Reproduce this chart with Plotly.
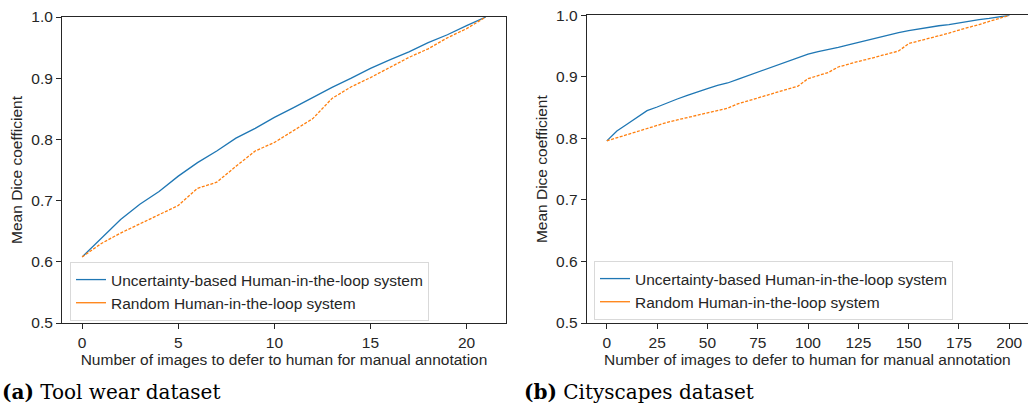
import plotly.graph_objects as go

# ---- data: (a) Tool wear dataset ----
tool_x = list(range(22))
tool_uncertainty = [0.608, 0.638, 0.669, 0.694, 0.715, 0.740, 0.762, 0.781, 0.802, 0.818,
                    0.836, 0.852, 0.869, 0.885, 0.900, 0.916, 0.930, 0.943, 0.958, 0.971,
                    0.986, 1.000]
tool_random = [0.608, 0.630, 0.647, 0.662, 0.678, 0.692, 0.720, 0.730, 0.756, 0.781,
               0.795, 0.815, 0.834, 0.867, 0.886, 0.901, 0.918, 0.934, 0.948, 0.966,
               0.981, 1.000]

# ---- data: (b) Cityscapes dataset ----
city_x = list(range(0, 201, 5))
city_uncertainty = [0.796, 0.812, 0.823, 0.834, 0.845, 0.851, 0.858, 0.864, 0.870, 0.876,
                    0.881, 0.886, 0.890, 0.896, 0.902, 0.908, 0.914, 0.920, 0.926, 0.932,
                    0.937, 0.941, 0.944, 0.948, 0.952, 0.956, 0.961, 0.965, 0.969, 0.972,
                    0.975, 0.978, 0.980, 0.983, 0.985, 0.988, 0.990, 0.993, 0.995, 0.998,
                    1.000]
city_random = [0.796, 0.801, 0.806, 0.811, 0.817, 0.822, 0.826, 0.830, 0.834, 0.838,
               0.841, 0.845, 0.849, 0.856, 0.861, 0.865, 0.870, 0.876, 0.881, 0.885,
               0.897, 0.902, 0.907, 0.916, 0.921, 0.925, 0.929, 0.933, 0.937, 0.942,
               0.954, 0.958, 0.962, 0.967, 0.971, 0.976, 0.980, 0.985, 0.990, 0.995,
               1.000]

y_ticks = [0.5, 0.6, 0.7, 0.8, 0.9, 1.0]
y_ticklabels = ["0.5", "0.6", "0.7", "0.8", "0.9", "1.0"]
tool_xticks = [0, 5, 10, 15, 20]
city_xticks = [0, 25, 50, 75, 100, 125, 150, 175, 200]

label_uncert = "Uncertainty-based Human-in-the-loop system"
label_random = "Random Human-in-the-loop system"
x_title = "Number of images to defer to human for manual annotation"
y_title = "Mean Dice coefficient"
captions = ["<b>(a)</b> Tool wear dataset", "<b>(b)</b> Cityscapes dataset"]

BLUE = "#1f77b4"
ORANGE = "#ff7f0e"
INK = "#262626"
SANS = "Liberation Sans, Arial, sans-serif"
SERIF = "DejaVu Serif, serif"
FS = 15.5

fig = go.Figure()

panels = [
    ("x", "y", "legend", tool_x, tool_uncertainty, tool_random),
    ("x2", "y2", "legend2", city_x, city_uncertainty, city_random),
]
for xa, ya, lg, xs, yu, yr in panels:
    fig.add_trace(go.Scatter(x=xs, y=yu, mode="lines", xaxis=xa, yaxis=ya,
                             line=dict(color=BLUE, width=1.3), showlegend=False, hoverinfo="skip"))
    fig.add_trace(go.Scatter(x=xs, y=yr, mode="lines", xaxis=xa, yaxis=ya,
                             line=dict(color=ORANGE, width=1.3, dash="3px,1.5px"),
                             showlegend=False, hoverinfo="skip"))
    # legend entries (solid samples as in the reference)
    fig.add_trace(go.Scatter(x=[None], y=[None], mode="lines", xaxis=xa, yaxis=ya,
                             line=dict(color=BLUE, width=1.3), name=label_uncert, legend=lg))
    fig.add_trace(go.Scatter(x=[None], y=[None], mode="lines", xaxis=xa, yaxis=ya,
                             line=dict(color=ORANGE, width=1.3), name=label_random, legend=lg))

axis_common = dict(showgrid=False, zeroline=False, showline=True, linecolor=INK, linewidth=1,
                   ticks="outside", ticklen=5, tickwidth=1, tickcolor=INK, automargin=False,
                   tickfont=dict(family=SANS, size=FS, color=INK))

legend_common = dict(bgcolor="rgba(255,255,255,0.9)", bordercolor="#d9d9d9", borderwidth=1,
                     font=dict(family=SANS, size=FS, color=INK),
                     xanchor="left", yanchor="top", tracegroupgap=0, itemwidth=30)

title_font = dict(family=SANS, size=FS, color=INK)

fig.update_layout(
    width=1028, height=408,
    margin=dict(l=0, r=0, t=0, b=0, autoexpand=False),
    paper_bgcolor="white", plot_bgcolor="white",
    showlegend=True,
    xaxis=dict(axis_common, domain=[62 / 1028, 506 / 1028], anchor="y", range=[-1.05, 22.05],
               tickvals=tool_xticks, mirror=True,
               title=dict(text=x_title, font=title_font, standoff=2)),
    yaxis=dict(axis_common, domain=[1 - 323 / 408, 1 - 17 / 408], anchor="x", range=[0.5, 1.0],
               tickvals=y_ticks, ticktext=y_ticklabels, mirror=True,
               title=dict(text=y_title, font=title_font, standoff=4)),
    xaxis2=dict(axis_common, domain=[586.7 / 1028, 1.0], anchor="y2", range=[-10, 209.3],
                tickvals=city_xticks, mirror=True,
                title=dict(text=x_title, font=title_font, standoff=2)),
    yaxis2=dict(axis_common, domain=[1 - 323 / 408, 1 - 15.3 / 408], anchor="x2", range=[0.5, 1.0],
                tickvals=y_ticks, ticktext=y_ticklabels, mirror=False,
                title=dict(text=y_title, font=title_font, standoff=4)),
    legend=dict(legend_common, x=70 / 1028, y=1 - 262 / 408),
    legend2=dict(legend_common, x=594 / 1028, y=1 - 261 / 408),
)

fig.add_annotation(text=captions[0], xref="paper", yref="paper", x=0, y=1 - 392 / 408,
                   xanchor="left", yanchor="middle", showarrow=False,
                   font=dict(family=SERIF, size=20, color="black"))
fig.add_annotation(text=captions[1], xref="paper", yref="paper", x=522 / 1028, y=1 - 392 / 408,
                   xanchor="left", yanchor="middle", showarrow=False,
                   font=dict(family=SERIF, size=20, color="black"))

fig.write_html("out.html", config={"displayModeBar": False},
               post_script="document.body.style.margin='0';document.body.style.overflow='hidden';")
